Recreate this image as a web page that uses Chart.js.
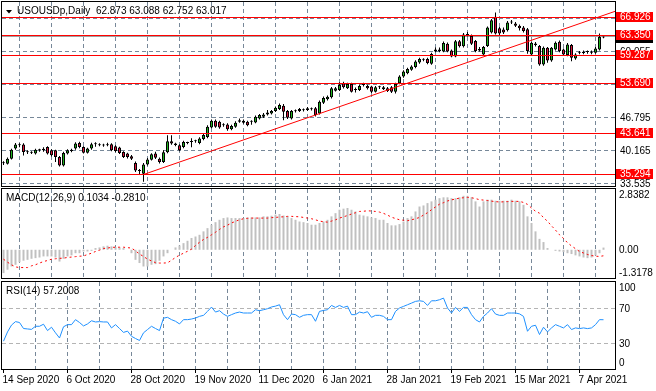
<!DOCTYPE html>
<html><head><meta charset="utf-8">
<script src="https://cdn.jsdelivr.net/npm/chart.js@4.4.1/dist/chart.umd.min.js"></script>
<style>
html,body{margin:0;padding:0;background:#fff;}
#wrap{position:relative;width:656px;height:391px;overflow:hidden;background:#fff;}
#wrap canvas{position:absolute;left:0;}
</style></head><body>
<div id="wrap">
<canvas id="cMain" width="656" height="188" style="top:0px"></canvas>
<canvas id="cMacd" width="656" height="92" style="top:188px"></canvas>
<canvas id="cRsi" width="656" height="111" style="top:280px"></canvas>
</div>
<script>
// ---------- data ----------
const symbol = 'USOUSDp,Daily';
const dateLabels = ['14 Sep 2020','6 Oct 2020','28 Oct 2020','19 Nov 2020','11 Dec 2020','6 Jan 2021','28 Jan 2021','19 Feb 2021','15 Mar 2021','7 Apr 2021'];
const dateIdx = [0,16,32,48,64,80,96,112,128,144];
const gridIdx = [0,8,16,24,32,40,48,56,64,72,80,88,96,104,112,120,128,136,144];
const priceGrid = [33.535,40.165,46.795,53.425,60.055,66.685];
const priceLabels = [33.535,40.165,46.795,60.055];
const levels = [66.926,63.350,59.287,53.690,43.641,35.294];
const lastPrice = 63.017;
const trendX = [35,153];
const trendY = [35.294,68.20];

const open = [37.58,37.47,38.48,40.51,41.18,41.32,39.80,39.72,39.50,40.16,
 40.16,40.84,40.16,40.16,38.80,37.12,39.50,40.30,40.51,41.64,
 40.84,39.70,40.51,41.38,41.18,41.18,41.20,41.38,40.97,40.71,
 39.82,39.50,38.95,37.59,36.20,35.44,37.32,38.28,39.50,38.48,
 37.80,39.80,41.99,41.52,41.18,40.84,41.63,41.86,42.00,41.65,
 42.46,42.86,44.76,46.10,45.90,45.23,45.37,44.42,44.89,45.90,
 46.10,45.90,45.90,45.77,46.59,46.91,47.40,47.60,48.07,48.48,
 49.14,48.07,46.59,48.07,48.07,48.27,48.27,48.48,48.62,47.60,
 49.75,50.44,50.85,52.19,52.33,53.69,52.67,53.54,52.33,52.33,
 53.35,53.14,53.00,51.98,52.88,52.47,52.67,52.88,51.98,53.69,
 55.03,55.71,56.38,56.93,57.86,58.41,58.55,57.60,60.10,60.50,
 60.09,61.65,60.30,59.08,62.12,61.11,63.45,63.22,62.20,60.60,
 59.48,61.19,63.88,67.07,64.76,64.50,64.35,65.90,65.71,65.24,
 64.90,64.55,59.48,61.70,61.19,57.46,60.84,58.27,60.50,62.06,
 60.50,59.36,61.39,58.68,59.83,59.75,59.97,59.80,59.83,60.50,
 62.873];
const high = [37.95,38.70,40.50,41.65,41.60,41.60,40.20,40.00,40.50,40.50,
 40.80,41.00,40.40,40.30,39.00,39.90,40.40,40.50,41.80,41.90,
 41.00,40.70,41.70,41.80,41.60,41.50,41.70,41.60,41.20,40.90,
 40.00,39.70,39.20,37.90,36.40,37.60,38.60,39.60,39.90,38.70,
 40.20,43.20,43.20,41.70,41.40,42.10,41.90,42.60,42.30,42.80,
 43.50,45.20,46.40,46.40,46.10,45.60,45.60,45.30,46.00,46.60,
 46.40,46.10,46.20,47.20,47.50,47.70,48.30,48.30,49.00,49.60,
 49.50,48.30,48.30,48.40,48.70,48.60,48.90,48.80,48.90,50.20,
 51.00,51.20,52.90,52.90,53.90,54.00,53.80,53.80,52.80,53.40,
 53.80,53.40,53.20,53.10,53.20,53.10,52.90,53.10,53.80,55.30,
 56.30,56.80,57.30,58.30,58.80,58.70,58.80,59.80,60.90,60.90,
 62.10,61.90,60.50,62.40,62.40,63.80,64.00,63.50,62.40,61.00,
 61.20,65.10,66.60,67.94,65.00,64.90,66.20,66.40,66.00,65.50,
 65.20,64.80,62.10,62.00,61.40,61.10,61.00,61.00,62.10,62.30,
 60.70,61.80,61.60,59.70,60.20,60.30,60.30,60.30,61.00,63.70,
 63.088];
const low = [37.20,37.30,38.30,40.30,40.80,39.10,39.40,39.40,39.30,39.90,
 39.90,39.30,38.90,37.80,36.90,36.90,39.30,39.80,40.30,40.60,
 39.50,39.50,40.30,40.90,41.00,40.90,41.00,40.00,39.80,39.40,
 38.60,38.50,38.20,35.80,35.20,33.85,37.10,38.10,38.40,37.50,
 37.60,39.60,41.30,41.00,40.00,40.60,41.40,40.80,41.70,41.40,
 42.20,42.60,44.60,44.70,44.50,44.90,44.10,44.20,44.70,45.70,
 45.50,45.00,45.30,45.60,46.40,46.70,47.20,47.40,47.90,48.30,
 46.24,46.50,46.40,47.80,47.90,48.00,48.10,48.20,47.00,47.40,
 49.50,50.20,50.60,52.00,52.10,52.60,52.50,51.80,51.80,52.10,
 53.00,52.40,51.70,51.80,52.50,52.30,51.90,51.70,51.60,53.50,
 54.80,55.50,56.20,56.70,57.60,58.10,57.50,57.40,59.90,59.90,
 59.90,59.90,58.90,58.90,60.90,60.90,63.10,61.40,59.90,60.10,
 59.30,61.00,63.70,63.50,63.40,63.60,64.10,65.60,65.00,64.30,
 63.90,59.60,59.20,61.10,57.20,57.20,57.80,58.00,60.30,59.90,
 59.20,59.10,58.10,58.40,59.50,59.50,59.60,59.50,59.60,60.30,
 62.752];
const close = [37.62,38.48,40.30,41.32,41.20,39.82,39.84,39.70,40.30,40.18,
 40.50,39.50,39.15,38.80,37.12,39.64,40.16,40.02,41.52,40.84,
 39.70,40.51,41.38,41.40,41.38,41.16,41.38,40.16,40.02,39.62,
 38.80,38.80,38.48,36.11,36.00,37.32,38.34,39.35,38.68,37.79,
 39.80,41.99,41.52,41.25,40.16,41.85,41.66,41.84,41.98,42.54,
 43.27,44.89,46.10,44.89,44.76,45.20,44.42,45.09,45.70,46.24,
 45.70,45.23,45.92,46.91,47.26,47.40,47.81,48.07,48.74,49.29,
 47.93,46.71,48.07,48.05,48.48,48.25,48.62,48.46,47.26,49.95,
 50.71,50.97,52.67,52.67,53.34,52.88,53.54,51.98,52.31,53.14,
 53.33,52.67,51.98,52.88,52.86,52.88,52.12,51.98,53.54,55.03,
 56.04,56.53,57.05,58.07,58.55,58.39,57.74,59.56,60.50,60.15,
 61.80,60.09,59.08,62.12,61.11,63.48,63.40,61.65,60.17,60.30,
 60.98,64.90,66.38,63.68,63.68,63.88,65.91,66.12,65.24,64.76,
 64.23,60.17,61.86,61.40,57.46,60.84,58.27,60.84,61.86,60.17,
 59.48,61.51,58.81,59.48,59.85,60.03,59.95,60.00,60.70,63.00,
 63.017];

const macdMain = [-1.09,-0.93,-0.78,-0.70,-0.58,-0.51,-0.47,-0.42,-0.39,-0.36,
 -0.31,-0.31,-0.31,-0.36,-0.55,-0.42,-0.31,-0.26,-0.16,-0.16,
 -0.08,-0.08,-0.05,0.08,0.11,0.16,0.19,0.16,0.12,0.11,
 0.08,0.00,-0.16,-0.47,-0.62,-0.78,-0.78,-0.70,-0.67,-0.51,
 -0.31,-0.16,0.00,0.11,0.20,0.31,0.42,0.55,0.62,0.70,
 0.86,1.01,1.17,1.29,1.40,1.48,1.51,1.48,1.48,1.48,
 1.48,1.51,1.51,1.51,1.51,1.56,1.56,1.59,1.64,1.67,
 1.60,1.56,1.48,1.40,1.32,1.29,1.25,1.17,1.17,1.25,
 1.32,1.40,1.56,1.71,1.87,1.92,1.95,1.87,1.79,1.64,
 1.60,1.56,1.51,1.48,1.40,1.40,1.25,1.14,1.14,1.20,
 1.32,1.48,1.56,1.79,2.02,2.07,2.18,2.26,2.34,2.41,
 2.45,2.45,2.41,2.41,2.45,2.52,2.52,2.45,2.26,2.02,
 2.26,2.34,2.34,2.29,2.29,2.29,2.29,2.34,2.29,2.26,
 2.10,1.56,1.25,0.86,0.51,0.36,0.08,0.00,-0.05,-0.08,
 -0.11,-0.16,-0.20,-0.26,-0.31,-0.36,-0.39,-0.36,-0.26,-0.16,
 0.1034];
const macdSignal = [-0.44,-0.58,-0.70,-0.80,-0.83,-0.83,-0.83,-0.75,-0.70,-0.62,
 -0.55,-0.50,-0.44,-0.42,-0.40,-0.39,-0.36,-0.34,-0.32,-0.30,
 -0.29,-0.22,-0.16,-0.08,-0.02,0.06,0.08,0.11,0.12,0.12,
 0.12,0.10,0.08,-0.05,-0.20,-0.31,-0.44,-0.52,-0.60,-0.62,
 -0.62,-0.61,-0.49,-0.36,-0.25,-0.16,-0.07,0.03,0.20,0.35,
 0.48,0.58,0.70,0.82,0.95,1.07,1.15,1.25,1.33,1.40,
 1.45,1.47,1.48,1.48,1.48,1.48,1.48,1.50,1.51,1.53,
 1.54,1.56,1.56,1.55,1.54,1.51,1.48,1.45,1.40,1.34,
 1.31,1.29,1.34,1.40,1.48,1.54,1.60,1.67,1.73,1.79,
 1.80,1.82,1.81,1.79,1.76,1.70,1.62,1.52,1.46,1.40,
 1.38,1.36,1.40,1.45,1.51,1.62,1.73,1.87,2.00,2.13,
 2.20,2.28,2.33,2.37,2.41,2.43,2.45,2.43,2.39,2.34,
 2.32,2.30,2.27,2.25,2.23,2.24,2.25,2.26,2.26,2.26,
 2.21,2.12,1.95,1.80,1.71,1.50,1.33,1.12,0.92,0.70,
 0.53,0.33,0.18,0.05,-0.08,-0.15,-0.22,-0.27,-0.30,-0.31,
 -0.2810];
const macdTicks = [2.8382,0,-1.3178];

const rsi = [32.3,43,51,55,54,47,46.5,46,49.6,49.6,
 52,44.6,48.5,42,36,49,51.5,51.5,57.3,54,
 50,52.3,56,54.6,55,54.6,54.6,47.7,51.5,47,
 42.5,44,38,35.4,33.1,42,45.8,49.6,47,44.6,
 59,60,57.3,55.4,52.3,57.3,57.3,58,59.2,61.1,
 62.3,66.9,71.9,66.1,67.7,63.8,61.1,63.1,65,66.1,
 65,65,65,68.8,67.7,68.8,70,72,73,74.6,
 63,57.3,63.8,63.1,60,62.3,63.1,63.1,55.4,66.9,
 68,68.8,73.8,71.5,73.8,71.5,73,63.1,63.1,66.1,
 65,66.5,60,62.3,62.3,61.1,57.3,57.3,66.9,70.8,
 72.7,74.6,76.5,78.5,79.2,78.5,73.8,79.2,79.2,80.4,
 82.3,70.8,65,71.5,66.9,71.5,71.5,63.1,57.3,54.6,
 61.1,65,70,63.8,62.3,62.3,65,65,65,64,
 61.1,43.8,49.6,50.8,40,48.5,43.1,47.7,51.5,49.6,
 47.7,51.5,45.8,47.7,46.9,47.7,46.9,47.7,51.5,57.3,
 57.2008];
const rsiTicks = [100,70,30,0];
const rsiLevels = [70,30];

// ---------- styling ----------
const FONT_FAMILY = '"Liberation Sans", Arial, sans-serif';
const FONT = '10px ' + FONT_FAMILY;
const GRID = '#778899';
const BULL = '#1fb51f';
const BEAR = '#dc143c';
const X_MIN = -0.375, X_MAX = 152.875;
const AXIS_W = 41;
const last = close.length - 1;
const idx = close.map((_, i) => i);

Chart.defaults.font.family = FONT_FAMILY;
Chart.defaults.font.size = 10;
Chart.defaults.color = '#000';

function txt(ctx, s, x, y, color) {
  ctx.fillStyle = color; ctx.textAlign = 'left'; ctx.textBaseline = 'middle'; ctx.font = FONT;
  ctx.fillText(s, x, y);
}
function frame(chart) {
  const a = chart.chartArea, c = chart.ctx;
  c.save(); c.strokeStyle = '#000'; c.lineWidth = 1; c.setLineDash([]);
  c.strokeRect(a.left - 0.5, a.top - 0.5, a.right - a.left + 1, a.bottom - a.top + 1);
  c.restore();
}
function hline(chart, v, color, dash) {
  const { ctx, chartArea: a, scales: { y } } = chart;
  const py = Math.floor(y.getPixelForValue(v)) + 0.5;
  ctx.save(); ctx.strokeStyle = color; ctx.lineWidth = 1; ctx.setLineDash(dash || []);
  ctx.beginPath(); ctx.moveTo(a.left, py); ctx.lineTo(a.right, py); ctx.stroke(); ctx.restore();
}
function xScale(withLabels) {
  const labelFor = v => { const k = dateIdx.indexOf(v); return k >= 0 ? dateLabels[k] : ''; };
  return {
    type: 'linear', min: X_MIN, max: X_MAX, offset: false,
    afterBuildTicks: s => { s.ticks = gridIdx.map(v => ({ value: v })); },
    afterFit: s => { s.height = withLabels ? 22 : 0; },
    ticks: withLabels ? {
      display: true, autoSkip: false, maxRotation: 0, minRotation: 0, align: 'start',
      padding: 1, labelOffset: -1, color: '#000', font: { size: 10, family: FONT_FAMILY },
      callback: v => labelFor(v)
    } : { display: false },
    grid: {
      color: c => (c.index === 0 ? 'rgba(0,0,0,0)' : GRID), lineWidth: 1,
      drawTicks: withLabels, tickLength: 4,
      tickColor: c => (dateIdx.includes(gridIdx[c.index]) ? '#000' : 'rgba(0,0,0,0)')
    },
    border: { display: false, dash: [4, 3] }
  };
}
function yScale(min, max, gridVals) {
  return {
    position: 'right', min, max,
    afterBuildTicks: s => { if (gridVals) s.ticks = gridVals.map(v => ({ value: v })); },
    afterFit: s => { s.width = AXIS_W; },
    ticks: { display: false },
    grid: { display: !!gridVals, color: GRID, drawTicks: false, lineWidth: 1 },
    border: { display: false, dash: [4, 3] }
  };
}
const common = { responsive: false, animation: false, devicePixelRatio: 1, events: [],
  plugins: { legend: { display: false }, tooltip: { enabled: false } } };

// ---------- main price panel ----------
const mainDeco = {
  id: 'mainDeco',
  beforeDatasetsDraw(chart) { hline(chart, lastPrice, '#a0a0a0'); },
  afterDatasetsDraw(chart) { levels.forEach(v => hline(chart, v, '#ff0000')); },
  afterDraw(chart) {
    const { ctx, scales: { y } } = chart;
    frame(chart);
    ctx.save();
    priceLabels.forEach(v => txt(ctx, v.toFixed(3), 620, Math.floor(y.getPixelForValue(v)) + 1.5, '#000'));
    const pr = Math.floor(y.getPixelForValue(lastPrice));
    ctx.fillStyle = '#000'; ctx.fillRect(616, pr - 4, 37, 11);
    txt(ctx, lastPrice.toFixed(3), 620, pr + 1.5, '#fff');
    levels.forEach(v => {
      const r = Math.floor(y.getPixelForValue(v));
      ctx.fillStyle = '#ff0000'; ctx.fillRect(616, r - 5, 37, 10);
      txt(ctx, v.toFixed(3), 620, r + 0.5, '#fff');
    });
    ctx.fillStyle = '#000';
    ctx.beginPath(); ctx.moveTo(6, 10); ctx.lineTo(12, 10); ctx.lineTo(9, 13.5); ctx.closePath(); ctx.fill();
    const ohlc = [open, high, low, close].map(a => a[last].toFixed(3)).join(' ');
    txt(ctx, symbol + '  ' + ohlc, 17, 11.5, '#000');
    ctx.restore();
  }
};
new Chart(document.getElementById('cMain'), {
  type: 'bar',
  data: { datasets: [
    { type: 'line', data: trendX.map((x, k) => ({ x, y: trendY[k] })), borderColor: '#ff0000',
      borderWidth: 1, pointRadius: 0, order: 0 },
    { type: 'bar', data: idx.map(i => ({ x: i, y: [open[i], close[i]] })),
      backgroundColor: c => (close[c.dataIndex] >= open[c.dataIndex] ? BULL : BEAR),
      borderColor: '#000', borderWidth: 1, borderSkipped: false, barThickness: 3,
      minBarLength: 1, grouped: false, inflateAmount: 0, order: 1 },
    { type: 'bar', data: idx.map(i => ({ x: i, y: [low[i], high[i]] })),
      backgroundColor: '#000', borderWidth: 0, barThickness: 1, grouped: false, inflateAmount: 0, order: 2 }
  ] },
  options: Object.assign({}, common, {
    layout: { padding: { left: 2, right: 0, top: 2, bottom: 2 } },
    scales: { x: xScale(false), y: yScale(32.977, 70.049, priceGrid) }
  }),
  plugins: [mainDeco]
});

// ---------- MACD panel ----------
const macdDeco = {
  id: 'macdDeco',
  afterDraw(chart) {
    const { ctx, chartArea: a, scales: { y } } = chart;
    frame(chart);
    ctx.save();
    txt(ctx, macdTicks[0].toFixed(4), 619, a.top + 6.5, '#000');
    txt(ctx, macdTicks[1].toFixed(2), 619, Math.floor(y.getPixelForValue(macdTicks[1])) + 1, '#000');
    txt(ctx, macdTicks[2].toFixed(4), 619, a.bottom - 4.5, '#000');
    txt(ctx, 'MACD(12,26,9) ' + macdMain[last].toFixed(4) + ' ' + macdSignal[last].toFixed(4), 6, 10, '#000');
    ctx.restore();
  }
};
new Chart(document.getElementById('cMacd'), {
  type: 'bar',
  data: { datasets: [
    { type: 'line', data: idx.map(i => ({ x: i, y: macdSignal[i] })), borderColor: '#ff0000',
      borderWidth: 1, borderDash: [2, 3], pointRadius: 0, order: 0 },
    { type: 'bar', data: idx.map(i => ({ x: i, y: macdMain[i] })), backgroundColor: '#c0c0c0',
      barThickness: 2, grouped: false, inflateAmount: 0, order: 1 }
  ] },
  options: Object.assign({}, common, {
    layout: { padding: { left: 2, right: 0, top: 1, bottom: 2 } },
    scales: { x: xScale(false), y: yScale(Math.min(...macdTicks), Math.max(...macdTicks), null) }
  }),
  plugins: [macdDeco]
});

// ---------- RSI panel ----------
const rsiDeco = {
  id: 'rsiDeco',
  beforeDatasetsDraw(chart) { rsiLevels.forEach(v => hline(chart, v, '#b4b4b4', [4, 3])); },
  afterDraw(chart) {
    const { ctx, chartArea: a, scales: { y } } = chart;
    frame(chart);
    ctx.save();
    txt(ctx, String(rsiTicks[0]), 619, a.top + 6.5, '#000');
    txt(ctx, String(rsiTicks[1]), 619, Math.floor(y.getPixelForValue(rsiTicks[1])) + 1.5, '#000');
    txt(ctx, String(rsiTicks[2]), 619, Math.floor(y.getPixelForValue(rsiTicks[2])) + 1, '#000');
    txt(ctx, String(rsiTicks[3]), 619, a.bottom - 5.5, '#000');
    txt(ctx, 'RSI(14) ' + rsi[last].toFixed(4), 6, 11, '#000');
    ctx.restore();
  }
};
new Chart(document.getElementById('cRsi'), {
  type: 'line',
  data: { datasets: [
    { data: idx.map(i => ({ x: i, y: rsi[i] })), borderColor: '#1e90ff', borderWidth: 1,
      pointRadius: 0, tension: 0 }
  ] },
  options: Object.assign({}, common, {
    layout: { padding: { left: 2, right: 0, top: 2, bottom: 0 } },
    scales: { x: xScale(true), y: yScale(0, 101, null) }
  }),
  plugins: [rsiDeco]
});
</script>
</body></html>
